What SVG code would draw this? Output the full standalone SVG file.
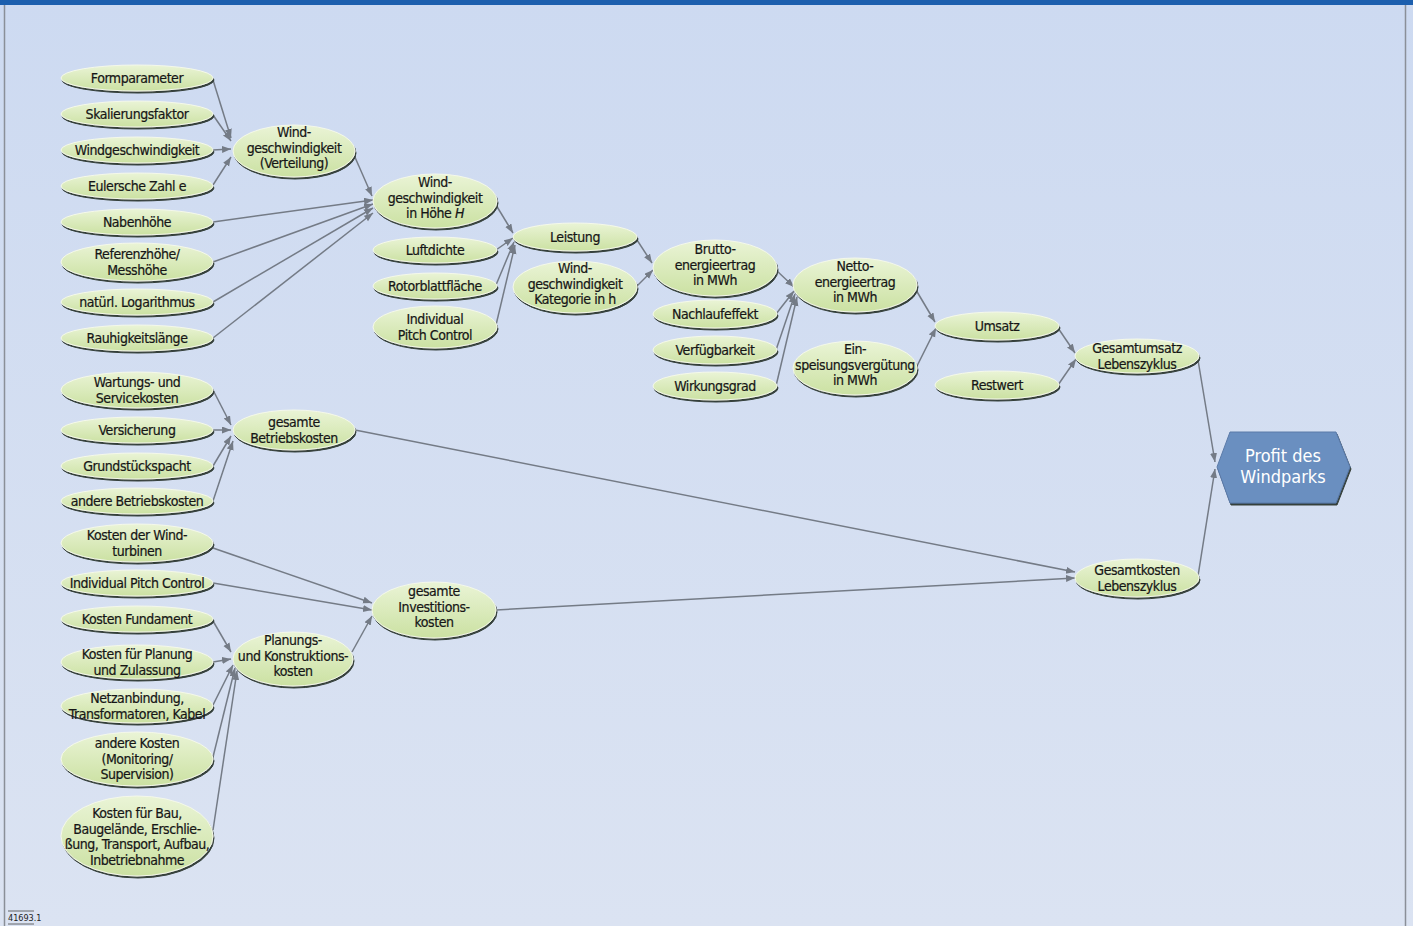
<svg xmlns="http://www.w3.org/2000/svg" width="1413" height="926" viewBox="0 0 1413 926">
<style>
.nd{fill:url(#gf);stroke:#f4f8ea;stroke-width:1;filter:url(#ds)}
.t{font-family:"DejaVu Sans Condensed","DejaVu Sans",sans-serif;font-size:14px;letter-spacing:-0.45px;fill:#161616;stroke:#161616;stroke-width:0.2;text-anchor:middle}
.c line{stroke:#747b86;stroke-width:1.5;marker-end:url(#ah)}
.pt{font-family:"DejaVu Sans Condensed","DejaVu Sans",sans-serif;font-size:18px;fill:#ffffff;text-anchor:middle}
</style>
<defs>
<linearGradient id="gf" x1="0" y1="0" x2="0" y2="1">
<stop offset="0" stop-color="#eaf4d6"/>
<stop offset="1" stop-color="#cbe1a2"/>
</linearGradient>
<linearGradient id="bg" x1="0" y1="0" x2="0" y2="1">
<stop offset="0" stop-color="#cddaf1"/>
<stop offset="1" stop-color="#dbe3f2"/>
</linearGradient>
<filter id="ds" x="-10%" y="-20%" width="120%" height="150%">
<feDropShadow dx="1" dy="2" stdDeviation="0.6" flood-color="#34403a" flood-opacity="1"/>
</filter>
<marker id="ah" markerUnits="userSpaceOnUse" markerWidth="10" markerHeight="8" refX="9" refY="3.5" orient="auto">
<path d="M0,0 L9,3.5 L0,7 z" fill="#747b86"/>
</marker>
</defs>
<rect x="0" y="0" width="1413" height="926" fill="url(#bg)"/>
<rect x="0" y="0" width="1413" height="5" fill="#1c5fae"/>
<line x1="4.5" y1="5" x2="4.5" y2="926" stroke="#8a8f98" stroke-width="1.5"/>
<line x1="1405.5" y1="5" x2="1405.5" y2="926" stroke="#8a8f98" stroke-width="1.5"/>

<g class="c" id="connectors">
<line x1="213" y1="80" x2="231" y2="138"/>
<line x1="213" y1="115" x2="231" y2="141"/>
<line x1="213" y1="150" x2="231" y2="149"/>
<line x1="213" y1="185" x2="231" y2="157"/>
<line x1="354" y1="155" x2="372" y2="196"/>
<line x1="213" y1="222" x2="373" y2="200"/>
<line x1="213" y1="262" x2="373" y2="204"/>
<line x1="213" y1="302" x2="373" y2="208"/>
<line x1="213" y1="338" x2="373" y2="213"/>
<line x1="496" y1="205" x2="513" y2="233"/>
<line x1="496" y1="250" x2="513" y2="238"/>
<line x1="496" y1="285" x2="514" y2="242"/>
<line x1="496" y1="325" x2="515" y2="245"/>
<line x1="637" y1="240" x2="652" y2="263"/>
<line x1="637" y1="286" x2="653" y2="270"/>
<line x1="776" y1="270" x2="794" y2="287"/>
<line x1="776" y1="314" x2="794" y2="291"/>
<line x1="776" y1="350" x2="795" y2="294"/>
<line x1="776" y1="386" x2="797" y2="297"/>
<line x1="916" y1="290" x2="935" y2="322"/>
<line x1="916" y1="368" x2="936" y2="328"/>
<line x1="1058" y1="328" x2="1075" y2="353"/>
<line x1="1058" y1="385" x2="1076" y2="359"/>
<line x1="1198" y1="360" x2="1215" y2="462"/>
<line x1="1198" y1="576" x2="1215" y2="469"/>
<line x1="213" y1="390" x2="231" y2="425"/>
<line x1="213" y1="430" x2="231" y2="430"/>
<line x1="213" y1="466" x2="231" y2="436"/>
<line x1="213" y1="501" x2="233" y2="441"/>
<line x1="355" y1="430" x2="1075" y2="572"/>
<line x1="496" y1="610" x2="1075" y2="578"/>
<line x1="213" y1="548" x2="372" y2="603"/>
<line x1="213" y1="583" x2="372" y2="610"/>
<line x1="352" y1="652" x2="372" y2="616"/>
<line x1="213" y1="621" x2="231" y2="652"/>
<line x1="213" y1="662" x2="231" y2="659"/>
<line x1="213" y1="705" x2="233" y2="665"/>
<line x1="213" y1="757" x2="235" y2="668"/>
<line x1="213" y1="830" x2="237" y2="671"/>
</g>

<g id="n-formparameter"><ellipse class="nd" cx="137" cy="78" rx="76" ry="13"/><text class="t" x="137" y="83">Formparameter</text></g>
<g id="n-skalierungsfaktor"><ellipse class="nd" cx="137" cy="114" rx="76" ry="13"/><text class="t" x="137" y="119">Skalierungsfaktor</text></g>
<g id="n-windgeschwindigkeit"><ellipse class="nd" cx="137" cy="150" rx="76" ry="13"/><text class="t" x="137" y="155">Windgeschwindigkeit</text></g>
<g id="n-eulersche"><ellipse class="nd" cx="137" cy="186" rx="76" ry="13"/><text class="t" x="137" y="191">Eulersche Zahl e</text></g>
<g id="n-nabenhoehe"><ellipse class="nd" cx="137" cy="222" rx="76" ry="13"/><text class="t" x="137" y="227">Nabenhöhe</text></g>
<g id="n-referenzhoehe"><ellipse class="nd" cx="137" cy="262" rx="76" ry="19"/><text class="t" x="137" y="259">Referenzhöhe/<tspan x="137" dy="15.5">Messhöhe</tspan></text></g>
<g id="n-logarithmus"><ellipse class="nd" cx="137" cy="302" rx="76" ry="13"/><text class="t" x="137" y="307">natürl. Logarithmus</text></g>
<g id="n-rauhigkeit"><ellipse class="nd" cx="137" cy="338" rx="76" ry="13"/><text class="t" x="137" y="343">Rauhigkeitslänge</text></g>
<g id="n-wartung"><ellipse class="nd" cx="137" cy="390" rx="76" ry="18"/><text class="t" x="137" y="387">Wartungs- und<tspan x="137" dy="15.5">Servicekosten</tspan></text></g>
<g id="n-versicherung"><ellipse class="nd" cx="137" cy="430" rx="76" ry="13"/><text class="t" x="137" y="435">Versicherung</text></g>
<g id="n-pacht"><ellipse class="nd" cx="137" cy="466" rx="76" ry="13"/><text class="t" x="137" y="471">Grundstückspacht</text></g>
<g id="n-andere-betrieb"><ellipse class="nd" cx="137" cy="501" rx="76" ry="13"/><text class="t" x="137" y="506">andere Betriebskosten</text></g>
<g id="n-turbinen"><ellipse class="nd" cx="137" cy="543" rx="76" ry="19"/><text class="t" x="137" y="540">Kosten der Wind-<tspan x="137" dy="15.5">turbinen</tspan></text></g>
<g id="n-ipc2"><ellipse class="nd" cx="137" cy="583" rx="76" ry="13"/><text class="t" x="137" y="588">Individual Pitch Control</text></g>
<g id="n-fundament"><ellipse class="nd" cx="137" cy="619" rx="76" ry="13"/><text class="t" x="137" y="624">Kosten Fundament</text></g>
<g id="n-planung"><ellipse class="nd" cx="137" cy="662" rx="76" ry="17"/><text class="t" x="137" y="659">Kosten für Planung<tspan x="137" dy="15.5">und Zulassung</tspan></text></g>
<g id="n-netz"><ellipse class="nd" cx="137" cy="706" rx="76" ry="17"/><text class="t" x="137" y="703">Netzanbindung,<tspan x="137" dy="15.5">Transformatoren, Kabel</tspan></text></g>
<g id="n-andere-kosten"><ellipse class="nd" cx="137" cy="759" rx="76" ry="27"/><text class="t" x="137" y="748">andere Kosten<tspan x="137" dy="15.5">(Monitoring/</tspan><tspan x="137" dy="15.5">Supervision)</tspan></text></g>
<g id="n-bau"><ellipse class="nd" cx="137" cy="836" rx="76" ry="40"/><text class="t" x="137" y="818">Kosten für Bau,<tspan x="137" dy="15.5">Baugelände, Erschlie-</tspan><tspan x="137" dy="15.5">ßung, Transport, Aufbau,</tspan><tspan x="137" dy="15.5">Inbetriebnahme</tspan></text></g>

<g id="n-wind-verteilung"><ellipse class="nd" cx="294" cy="151" rx="61" ry="26"/><text class="t" x="294" y="137">Wind-<tspan x="294" dy="15.5">geschwindigkeit</tspan><tspan x="294" dy="15.5">(Verteilung)</tspan></text></g>
<g id="n-wind-hoehe"><ellipse class="nd" cx="435" cy="201" rx="62" ry="27"/><text class="t" x="435" y="187">Wind-<tspan x="435" dy="15.5">geschwindigkeit</tspan><tspan x="435" dy="15.5">in Höhe <tspan font-style="italic">H</tspan></tspan></text></g>
<g id="n-luftdichte"><ellipse class="nd" cx="435" cy="250" rx="62" ry="13"/><text class="t" x="435" y="255">Luftdichte</text></g>
<g id="n-rotorblatt"><ellipse class="nd" cx="435" cy="286" rx="62" ry="13"/><text class="t" x="435" y="291">Rotorblattfläche</text></g>
<g id="n-ipc1"><ellipse class="nd" cx="435" cy="327" rx="62" ry="21"/><text class="t" x="435" y="324">Individual<tspan x="435" dy="15.5">Pitch Control</tspan></text></g>
<g id="n-leistung"><ellipse class="nd" cx="575" cy="237" rx="62" ry="14"/><text class="t" x="575" y="242">Leistung</text></g>
<g id="n-wind-kategorie"><ellipse class="nd" cx="575" cy="287" rx="62" ry="26"/><text class="t" x="575" y="273">Wind-<tspan x="575" dy="15.5">geschwindigkeit</tspan><tspan x="575" dy="15.5">Kategorie in h</tspan></text></g>
<g id="n-brutto"><ellipse class="nd" cx="715" cy="268" rx="62" ry="28"/><text class="t" x="715" y="254">Brutto-<tspan x="715" dy="15.5">energieertrag</tspan><tspan x="715" dy="15.5">in MWh</tspan></text></g>
<g id="n-nachlauf"><ellipse class="nd" cx="715" cy="314" rx="62" ry="14"/><text class="t" x="715" y="319">Nachlaufeffekt</text></g>
<g id="n-verfuegbarkeit"><ellipse class="nd" cx="715" cy="350" rx="62" ry="14"/><text class="t" x="715" y="355">Verfügbarkeit</text></g>
<g id="n-wirkungsgrad"><ellipse class="nd" cx="715" cy="386" rx="62" ry="14"/><text class="t" x="715" y="391">Wirkungsgrad</text></g>
<g id="n-netto"><ellipse class="nd" cx="855" cy="285" rx="62" ry="27"/><text class="t" x="855" y="271">Netto-<tspan x="855" dy="15.5">energieertrag</tspan><tspan x="855" dy="15.5">in MWh</tspan></text></g>
<g id="n-einspeisung"><ellipse class="nd" cx="855" cy="368" rx="62" ry="27"/><text class="t" x="855" y="354">Ein-<tspan x="855" dy="15.5">speisungsvergütung</tspan><tspan x="855" dy="15.5">in MWh</tspan></text></g>
<g id="n-umsatz"><ellipse class="nd" cx="997" cy="326" rx="62" ry="14"/><text class="t" x="997" y="331">Umsatz</text></g>
<g id="n-restwert"><ellipse class="nd" cx="997" cy="385" rx="62" ry="14"/><text class="t" x="997" y="390">Restwert</text></g>
<g id="n-gesamtumsatz"><ellipse class="nd" cx="1137" cy="356" rx="62" ry="17"/><text class="t" x="1137" y="353">Gesamtumsatz<tspan x="1137" dy="15.5">Lebenszyklus</tspan></text></g>
<g id="n-gesamtkosten"><ellipse class="nd" cx="1137" cy="578" rx="62" ry="19"/><text class="t" x="1137" y="575">Gesamtkosten<tspan x="1137" dy="15.5">Lebenszyklus</tspan></text></g>
<g id="n-betriebskosten"><ellipse class="nd" cx="294" cy="430" rx="61" ry="20"/><text class="t" x="294" y="427">gesamte<tspan x="294" dy="15.5">Betriebskosten</tspan></text></g>
<g id="n-investitionskosten"><ellipse class="nd" cx="434" cy="610" rx="62" ry="28"/><text class="t" x="434" y="596">gesamte<tspan x="434" dy="15.5">Investitions-</tspan><tspan x="434" dy="15.5">kosten</tspan></text></g>
<g id="n-planungskosten"><ellipse class="nd" cx="293" cy="659" rx="60" ry="27"/><text class="t" x="293" y="645">Planungs-<tspan x="293" dy="15.5">und Konstruktions-</tspan><tspan x="293" dy="15.5">kosten</tspan></text></g>

<g id="n-profit"><polygon points="1217,467 1230,432 1336,432 1350,467 1336,503 1230,503" fill="#6b8fc0" stroke="#5a7aa8" stroke-width="1" filter="url(#ds)"/><text class="pt" x="1283" y="462">Profit des<tspan x="1283" dy="21">Windparks</tspan></text></g>

<g id="figure-number"><line x1="8" y1="911" x2="34" y2="911" stroke="#444" stroke-width="0.8"/><text x="8" y="921" font-family="DejaVu Sans Condensed, DejaVu Sans, sans-serif" font-size="9" fill="#222">41693.1</text><line x1="8" y1="924" x2="34" y2="924" stroke="#444" stroke-width="0.8"/></g>
</svg>
